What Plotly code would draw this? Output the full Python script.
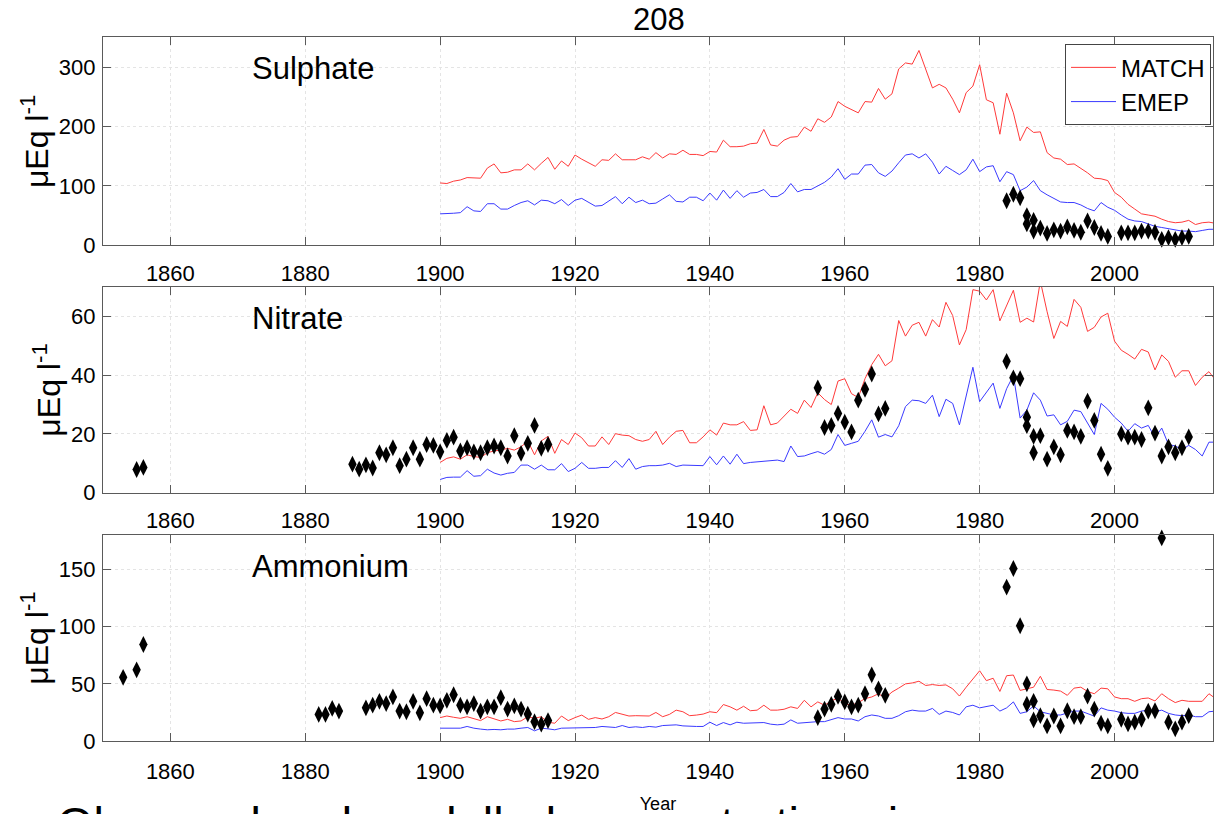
import plotly.graph_objects as go

# ---------------- data ----------------
MODEL_YEARS = list(range(1900, 2016))

SO4_MATCH = [105, 104, 108, 110, 114, 114, 113, 130, 137, 122, 123, 127, 127, 137, 127, 138, 148, 128, 142, 133,
             152, 145, 139, 133, 144, 143, 154, 144, 144, 144, 149, 145, 156, 147, 154, 153, 160, 153, 153, 151,
             158, 157, 177, 166, 166, 167, 171, 172, 195, 169, 167, 177, 182, 183, 199, 192, 213, 207, 216, 242,
             234, 228, 223, 242, 241, 264, 246, 255, 297, 307, 305, 328, 296, 265, 271, 265, 246, 223, 257, 268,
             304, 245, 240, 187, 256, 223, 176, 199, 190, 191, 156, 147, 145, 136, 137, 130, 122, 113, 112, 109,
             89, 81, 69, 61, 53, 51, 49, 44, 40, 38, 39, 42, 35, 38, 39, 37]
SO4_EMEP = [53, 53, 54, 55, 65, 58, 57, 70, 70, 61, 61, 67, 72, 75, 68, 76, 75, 70, 77, 67,
            76, 79, 73, 66, 67, 74, 82, 70, 81, 72, 76, 70, 71, 78, 85, 74, 73, 81, 81, 75,
            88, 76, 93, 79, 92, 81, 88, 89, 94, 82, 82, 89, 104, 90, 94, 94, 100, 106, 115, 129,
            111, 120, 120, 135, 136, 122, 116, 125, 139, 152, 154, 147, 154, 140, 120, 133, 126, 119, 127, 145,
            124, 132, 134, 107, 124, 119, 92, 98, 109, 92, 85, 79, 73, 72, 72, 68, 62, 58, 72, 64,
            59, 51, 44, 41, 40, 36, 32, 30, 28, 25, 24, 24, 23, 25, 27, 27]
SO4_OBS_YEARS = [1984, 1985, 1986, 1987, 1987, 1988, 1988, 1989, 1990, 1991, 1992, 1993, 1994, 1995, 1996,
                 1997, 1998, 1999, 2001, 2002, 2003, 2004, 2005, 2006, 2007, 2008, 2009, 2010, 2011]
SO4_OBS = [75, 86, 80, 50, 36, 42, 24, 29, 20, 26, 24, 31, 25, 22, 41,
           30, 20, 15, 21, 21, 21, 24, 24, 22, 10, 13, 10, 13, 15]

NO3_MATCH = [10.3, 11.7, 12.2, 11.4, 12.9, 12.3, 12.0, 13.6, 14.2, 14.5, 15.1, 14.5, 15.6, 17.6, 12.9, 17.6, 19.2, 13.4, 18.1, 16.4,
             20.3, 18.7, 15.9, 15.9, 19.0, 16.4, 20.1, 19.6, 19.4, 18.1, 17.5, 18.1, 20.9, 16.4, 18.9, 20.9, 21.2, 17.0, 17.0, 19.0,
             21.4, 19.6, 23.7, 23.1, 23.1, 24.2, 21.2, 21.4, 29.6, 23.1, 23.7, 25.9, 28.4, 27.0, 31.5, 29.0, 34.0, 31.7, 30.0, 38.0,
             38.8, 33.7, 32.4, 38.8, 43.6, 47.1, 43.2, 44.9, 58.6, 53.3, 57.0, 58.0, 53.3, 58.9, 56.4, 64.8, 60.3, 50.3, 55.5, 69.1,
             68.6, 65.6, 69.1, 58.5, 63.7, 68.9, 58.0, 59.4, 58.1, 72.0, 61.6, 52.5, 58.3, 56.6, 65.8, 63.1, 54.9, 56.3, 59.8, 61.1,
             51.6, 48.5, 47.1, 45.5, 48.8, 47.9, 41.8, 46.9, 44.7, 39.3, 41.5, 41.5, 36.5, 39.3, 41.2, 38.2]
NO3_EMEP = [4.5, 5.2, 5.3, 5.3, 7.5, 5.6, 5.8, 8.0, 6.7, 6.0, 6.6, 6.9, 9.4, 9.4, 8.0, 9.4, 7.8, 7.8, 9.9, 7.2,
            8.3, 10.3, 8.3, 8.3, 8.6, 8.6, 10.9, 8.6, 11.6, 8.0, 8.9, 9.2, 9.2, 9.4, 10.0, 8.9, 9.4, 9.4, 9.4, 9.2,
            12.3, 9.5, 12.5, 9.7, 13.1, 9.9, 10.3, 10.5, 10.9, 10.9, 11.1, 10.6, 15.9, 12.3, 12.5, 13.3, 14.0, 13.1, 14.7, 19.8,
            16.1, 16.8, 17.5, 20.9, 24.8, 18.9, 19.8, 19.0, 22.8, 29.3, 31.5, 31.3, 30.4, 33.2, 25.9, 31.8, 30.4, 23.1, 33.2, 42.7,
            31.0, 34.3, 37.3, 28.7, 35.4, 39.9, 25.4, 28.1, 34.0, 31.5, 26.1, 26.5, 23.1, 24.3, 28.1, 27.6, 23.9, 19.8, 30.4, 28.4,
            25.7, 23.7, 20.9, 23.5, 22.0, 22.9, 18.7, 22.0, 16.4, 15.9, 14.7, 16.1, 14.7, 12.5, 17.2, 17.2]
NO3_OBS_YEARS = [1855, 1856, 1887, 1888, 1889, 1890, 1891, 1892, 1893, 1894, 1895, 1896, 1897, 1898, 1899,
                 1900, 1901, 1902, 1903, 1904, 1905, 1906, 1907, 1908, 1909, 1910, 1911, 1912, 1913, 1914, 1915, 1916,
                 1956, 1957, 1958, 1959, 1960, 1961, 1962, 1963, 1964, 1965, 1966,
                 1984, 1985, 1986, 1987, 1987, 1988, 1988, 1989, 1990, 1991, 1992, 1993, 1994, 1995, 1996, 1997,
                 1998, 1999, 2001, 2002, 2003, 2004, 2005, 2006, 2007, 2008, 2009, 2010, 2011]
NO3_OBS = [7.9, 8.6, 9.7, 8.0, 9.5, 8.4, 13.6, 12.9, 15.3, 9.2, 11.4, 15.3, 11.4, 16.4, 16.1,
           13.9, 17.8, 18.9, 14.2, 15.3, 13.9, 13.6, 15.3, 15.9, 15.3, 12.5, 19.4, 13.4, 16.8, 22.9, 15.1, 16.4,
           35.7, 22.2, 22.9, 27.0, 24.0, 20.7, 31.5, 35.2, 40.4, 26.8, 28.7,
           44.7, 39.1, 38.8, 25.7, 22.8, 19.2, 13.6, 19.4, 11.4, 15.6, 12.9, 21.2, 20.7, 19.2, 31.2, 24.6,
           13.1, 8.3, 20.0, 18.9, 18.9, 18.1, 28.9, 20.3, 12.5, 15.6, 13.6, 15.3, 19.0]

NH4_MATCH = [20.6, 22.0, 20.9, 20.0, 21.4, 20.0, 18.0, 21.4, 19.4, 17.7, 19.1, 17.1, 17.7, 21.4, 20.0, 21.4, 16.6, 15.7, 22.0, 18.0,
             20.6, 22.8, 19.1, 20.6, 19.4, 21.4, 25.1, 23.4, 22.0, 22.3, 22.3, 22.0, 25.1, 21.4, 23.4, 27.1, 25.7, 22.3, 22.8, 23.7,
             25.7, 24.9, 32.0, 30.0, 27.1, 30.5, 26.6, 27.1, 31.4, 27.1, 27.1, 27.9, 30.0, 28.6, 35.7, 30.0, 34.3, 31.4, 35.1, 37.7,
             32.8, 31.4, 33.7, 37.1, 38.6, 41.4, 37.7, 42.9, 46.3, 50.0, 50.8, 52.3, 48.6, 49.4, 48.6, 49.1, 45.7, 39.4, 47.1, 54.3,
             61.4, 52.8, 54.9, 43.4, 57.1, 57.7, 44.3, 45.7, 47.1, 56.6, 45.1, 44.6, 43.7, 40.0, 46.3, 47.1, 43.4, 41.4, 46.3, 45.7,
             38.6, 37.1, 37.1, 34.8, 37.1, 37.7, 35.1, 41.4, 37.1, 33.7, 35.7, 34.8, 35.1, 34.8, 41.4, 37.1]
NH4_EMEP = [11.4, 11.4, 10.8, 11.4, 12.9, 11.4, 10.6, 10.0, 10.3, 10.0, 10.6, 10.6, 11.4, 12.0, 9.1, 11.4, 10.8, 10.0, 11.4, 11.4,
            11.4, 12.0, 12.0, 12.0, 12.9, 12.6, 12.0, 13.7, 12.0, 12.6, 12.0, 12.9, 12.3, 13.7, 14.3, 14.3, 13.4, 12.9, 12.9, 12.9,
            16.6, 13.7, 16.3, 14.3, 16.6, 15.7, 15.7, 15.7, 16.3, 14.9, 14.3, 14.9, 18.6, 15.7, 16.3, 16.3, 17.1, 17.1, 18.6, 20.6,
            19.4, 19.4, 17.7, 21.4, 22.9, 22.0, 20.0, 20.0, 22.3, 25.7, 27.1, 26.3, 26.3, 28.6, 23.4, 26.3, 25.1, 22.9, 30.0, 31.4,
            29.1, 30.5, 31.4, 26.3, 29.1, 34.3, 24.3, 25.7, 30.8, 25.7, 24.3, 22.9, 22.9, 24.3, 26.3, 26.3, 24.3, 21.9, 29.1, 27.1,
            26.3, 24.9, 24.3, 24.3, 26.3, 27.1, 25.7, 27.1, 24.3, 22.9, 22.3, 22.9, 21.4, 21.4, 25.7, 26.3]
NH4_OBS_YEARS = [1853, 1855, 1856, 1882, 1883, 1884, 1885, 1889, 1890, 1891, 1892, 1893, 1894, 1895, 1896, 1897, 1898, 1899,
                 1900, 1901, 1902, 1903, 1904, 1905, 1906, 1907, 1908, 1909, 1910, 1911, 1912, 1913, 1914, 1915, 1916,
                 1956, 1957, 1958, 1959, 1960, 1961, 1962, 1963, 1964, 1965, 1966,
                 1984, 1985, 1986, 1987, 1987, 1988, 1988, 1989, 1990, 1991, 1992, 1993, 1994, 1995, 1996, 1997,
                 1998, 1999, 2001, 2002, 2003, 2004, 2005, 2006, 2007, 2008, 2009, 2010, 2011]
NH4_OBS = [55.7, 62.2, 84.3, 23.4, 23.4, 28.6, 26.3, 29.1, 31.4, 34.8, 32.8, 38.6, 26.3, 25.7, 34.8, 24.8, 37.1, 31.4,
           30.8, 35.7, 40.5, 31.4, 30.0, 32.8, 26.3, 30.0, 30.0, 38.0, 28.0, 30.8, 28.0, 23.7, 17.1, 14.9, 18.0,
           20.6, 28.0, 32.2, 39.1, 34.3, 30.0, 31.4, 41.4, 57.9, 45.7, 40.0,
           134.3, 150.5, 100.6, 50.0, 32.3, 34.8, 18.6, 22.3, 13.4, 22.0, 13.4, 26.6, 21.4, 21.4, 39.4, 28.0,
           15.7, 13.4, 19.1, 15.1, 16.6, 19.1, 26.3, 26.6, 177.1, 16.6, 10.8, 16.6, 22.3]

PANEL_NAMES = ["Sulphate", "Nitrate", "Ammonium"]
Y_RANGES = [[0, 350], [0, 70], [0, 180]]
Y_TICKS = [[0, 100, 200, 300], [0, 20, 40, 60], [0, 50, 100, 150]]
X_TICKS = [1860, 1880, 1900, 1920, 1940, 1960, 1980, 2000]

# ---------------- layout geometry ----------------
W, H = 1214, 814
FONT = "Liberation Sans, Arial, sans-serif"


def py(p):
    return 1 - p / H


x_dom = [103 / W, 1.0]
panels_px = [(38, 249.3), (291.7, 500.7), (543.3, 753.3)]

fig = go.Figure()

series = [(SO4_MATCH, SO4_EMEP, SO4_OBS_YEARS, SO4_OBS),
          (NO3_MATCH, NO3_EMEP, NO3_OBS_YEARS, NO3_OBS),
          (NH4_MATCH, NH4_EMEP, NH4_OBS_YEARS, NH4_OBS)]

for i, (m, e, oy, ov) in enumerate(series):
    xa = "x" if i == 0 else f"x{i + 1}"
    ya = "y" if i == 0 else f"y{i + 1}"
    fig.add_trace(go.Scatter(x=MODEL_YEARS, y=m, mode="lines", name="MATCH",
                             line=dict(color="#ff3a3a", width=1), xaxis=xa, yaxis=ya,
                             showlegend=(i == 0)))
    fig.add_trace(go.Scatter(x=MODEL_YEARS, y=e, mode="lines", name="EMEP",
                             line=dict(color="#3a3aff", width=1), xaxis=xa, yaxis=ya,
                             showlegend=(i == 0)))
    fig.add_trace(go.Scatter(x=oy, y=ov, mode="markers", name="Obs",
                             marker=dict(symbol="diamond-tall", size=12, color="black"),
                             xaxis=xa, yaxis=ya, showlegend=False, cliponaxis=False))

axis_common = dict(showline=True, linecolor="#5a5a5a", linewidth=1, mirror="ticks",
                   ticks="inside", ticklen=8, tickcolor="#5a5a5a",
                   showgrid=True, gridcolor="#e4e4e4", griddash="dot", gridwidth=1,
                   zeroline=False, tickfont=dict(family=FONT, size=22, color="black"))

layout = dict(width=W, height=H, margin=dict(l=0, r=0, t=0, b=0),
              paper_bgcolor="white", plot_bgcolor="white",
              font=dict(family=FONT, color="black"),
              showlegend=True)

annotations = []
for i, (top, bot) in enumerate(panels_px):
    xk = "xaxis" if i == 0 else f"xaxis{i + 1}"
    yk = "yaxis" if i == 0 else f"yaxis{i + 1}"
    anchor_y = "y" if i == 0 else f"y{i + 1}"
    anchor_x = "x" if i == 0 else f"x{i + 1}"
    xa = dict(axis_common, domain=x_dom, range=[1850, 2014.6], tickvals=X_TICKS,
              anchor=anchor_y, ticklabelstandoff=8 if i < 2 else 10)
    if i == 2:
        xa["title"] = dict(text="Year", font=dict(family=FONT, size=18), standoff=14)
    layout[xk] = xa
    layout[yk] = dict(axis_common, domain=[py(bot), py(top)], range=Y_RANGES[i],
                      tickvals=Y_TICKS[i], anchor=anchor_x, ticklabelstandoff=2,
                      title=dict(text="μEq l<sup>-1</sup>", font=dict(family=FONT, size=32),
                                 standoff=0))
    annotations.append(dict(text=PANEL_NAMES[i], xref="paper", yref="paper",
                            x=250 / W, y=py(top + 32), xanchor="left", yanchor="middle",
                            showarrow=False, font=dict(family=FONT, size=31, color="black")))

annotations.append(dict(text="208", xref="paper", yref="paper", x=660 / W, y=py(20),
                        xanchor="center", yanchor="middle", showarrow=False,
                        font=dict(family=FONT, size=31, color="black")))
annotations.append(dict(text="Observed and modelled concentrations in", xref="paper", yref="paper",
                        x=55 / W, y=py(808), xanchor="left", yanchor="top", showarrow=False,
                        font=dict(family=FONT, size=47, color="black")))

layout["annotations"] = annotations
layout["legend"] = dict(x=1212 / W, y=py(45), xanchor="right", yanchor="top",
                        bgcolor="white", bordercolor="#444444", borderwidth=1,
                        itemwidth=45, tracegroupgap=0,
                        font=dict(family=FONT, size=24, color="black"))

fig.update_layout(**layout)
fig.write_html("out.html")
